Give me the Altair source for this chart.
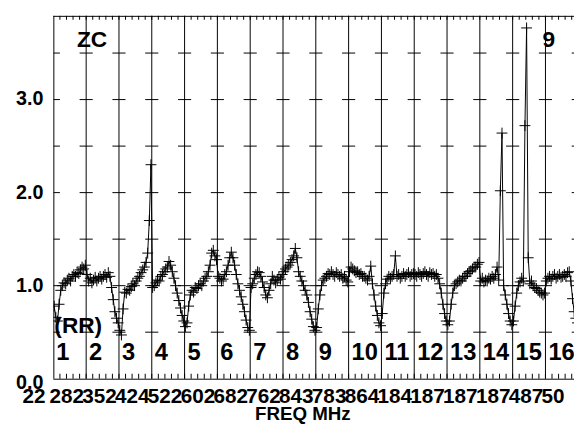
import altair as alt
import pandas as pd

# ---------------- data ----------------
seg1 = [0.78, 0.66, 0.62, 0.80, 0.95, 1.00, 1.03, 1.02, 1.06, 1.08, 1.05, 1.10, 1.12, 1.10, 1.14, 1.13, 1.17, 1.20, 1.18, 1.22]
seg2 = [1.12, 1.05, 1.08, 1.03, 1.06, 1.09, 1.05, 1.08, 1.10, 1.07, 1.10, 1.12, 1.09, 1.14, 1.10, 0.98, 0.85, 0.72, 0.65, 0.60]
seg3 = [0.52, 0.47, 0.75, 0.93, 0.92, 0.96, 0.95, 0.99, 1.02, 1.00, 1.05, 1.08, 1.10, 1.14, 1.17, 1.20, 1.25, 1.35, 1.70, 2.30]
seg4 = [0.98, 1.00, 1.03, 1.06, 1.05, 1.10, 1.12, 1.15, 1.18, 1.20, 1.26, 1.22, 1.15, 1.08, 1.00, 0.92, 0.84, 0.76, 0.68, 0.62]
seg5 = [0.56, 0.60, 0.78, 0.90, 0.95, 0.93, 0.98, 0.97, 1.00, 1.02, 1.00, 1.05, 1.08, 1.10, 1.15, 1.22, 1.35, 1.38, 1.32, 1.28]
seg6 = [1.10, 1.08, 1.05, 1.07, 1.12, 1.15, 1.22, 1.30, 1.36, 1.30, 1.22, 1.12, 1.02, 0.95, 0.88, 0.80, 0.72, 0.63, 0.55, 0.52]
seg7 = [0.98, 1.02, 1.08, 1.12, 1.15, 1.14, 1.10, 1.04, 0.98, 0.90, 0.87, 0.95, 1.02, 1.10, 1.06, 1.03, 1.06, 1.09, 1.07, 1.12]
seg8 = [1.15, 1.18, 1.20, 1.22, 1.25, 1.28, 1.32, 1.40, 1.30, 1.15, 1.10, 1.05, 1.00, 0.95, 0.90, 0.82, 0.72, 0.64, 0.56, 0.52]
seg9 = [0.55, 0.75, 0.90, 1.00, 1.06, 1.08, 1.10, 1.13, 1.12, 1.15, 1.12, 1.10, 1.14, 1.12, 1.10, 1.12, 1.08, 1.10, 1.06, 1.04]
seg10 = [1.15, 1.20, 1.18, 1.16, 1.14, 1.15, 1.12, 1.13, 1.10, 1.10, 1.08, 1.06, 1.10, 1.21, 1.02, 0.90, 0.78, 0.68, 0.60, 0.57]
seg11 = [0.70, 0.92, 1.02, 1.07, 1.10, 1.08, 1.10, 1.12, 1.32, 1.10, 1.12, 1.08, 1.10, 1.13, 1.10, 1.12, 1.14, 1.10, 1.12, 1.13]
seg12 = [1.12, 1.10, 1.14, 1.12, 1.10, 1.13, 1.15, 1.12, 1.10, 1.14, 1.12, 1.13, 1.10, 1.12, 1.08, 1.02, 0.92, 0.80, 0.70, 0.62]
seg13 = [0.58, 0.62, 0.80, 0.92, 1.00, 1.02, 1.04, 1.06, 1.05, 1.08, 1.10, 1.10, 1.13, 1.15, 1.16, 1.18, 1.20, 1.20, 1.23, 1.25]
seg14 = [1.05, 1.08, 1.04, 1.06, 1.05, 1.08, 1.07, 1.10, 1.08, 1.12, 1.20, 1.06, 2.02, 2.64, 1.00, 0.90, 0.80, 0.70, 0.62, 0.58]
seg15 = [0.62, 0.78, 0.92, 1.00, 1.04, 1.08, 1.05, 2.72, 3.77, 1.30, 1.02, 1.05, 1.00, 0.98, 0.97, 0.95, 0.93, 0.92, 0.90, 0.92]
seg16 = [1.05, 1.08, 1.10, 1.07, 1.10, 1.12, 1.08, 1.10, 1.12, 1.09, 1.10, 1.12, 1.10, 1.14, 1.15, 1.05, 0.86, 0.72, 0.65, 0.60]

SEGMENTS = [seg1, seg2, seg3, seg4, seg5, seg6, seg7, seg8,
            seg9, seg10, seg11, seg12, seg13, seg14, seg15, seg16]
SEG_LABELS = [str(i) for i in range(1, 17)]
FREQ_FIRST = "22"
FREQ_LABELS = ["282", "352", "424", "522", "602", "682", "762", "843",
               "783", "864", "184", "187", "187", "187", "487", "50"]
Y_TICKS = [0.0, 1.0, 2.0, 3.0]
Y_DASH_LEVELS = [0.5, 1.0, 1.5, 2.0, 2.5, 3.0, 3.5]

# ---------------- layout ----------------
W, H = 528, 368
SEG_PX = 33.27
XMAX = W / SEG_PX
YMAX = 3.9
FONT = "Liberation Sans"

xs = alt.Scale(domain=[0, XMAX], nice=False, zero=False)
ys = alt.Scale(domain=[0, YMAX], nice=False, zero=False)

rows = []
for k, seg in enumerate(SEGMENTS):
    n = len(seg)
    for i, v in enumerate(seg):
        rows.append({"pos": k + (i + 0.5) / n, "val": v})
pts = pd.DataFrame(rows)

bounds = pd.DataFrame({"b": list(range(1, 16))})
dashes = pd.DataFrame([
    {"x1": max(0.0, b - 0.2), "x2": b + 0.2, "lev": lev}
    for b in range(0, 17) for lev in Y_DASH_LEVELS
])
ticks = pd.DataFrame({"t": [j * 0.2 for j in range(1, int(XMAX / 0.2) + 1)]})
dummy = pd.DataFrame({"a": [0]})

def X(field):
    return alt.X(field, scale=xs, axis=None)

def Y(field):
    return alt.Y(field, scale=ys, axis=None)

vlines = alt.Chart(bounds).mark_rule(color="black", strokeWidth=1).encode(
    x=X("b:Q"), y=alt.value(0), y2=alt.value(H))
dash = alt.Chart(dashes).mark_rule(color="black", strokeWidth=1, clip=True).encode(
    x=X("x1:Q"), x2="x2:Q", y=Y("lev:Q"))
top_ticks = alt.Chart(ticks).mark_rule(color="black", strokeWidth=1).encode(
    x=X("t:Q"), y=alt.value(0), y2=alt.value(4))
bot_ticks = alt.Chart(ticks).mark_rule(color="black", strokeWidth=1).encode(
    x=X("t:Q"), y=alt.value(H - 5), y2=alt.value(H))
frame_top = alt.Chart(dummy).mark_rule(color="black", strokeWidth=1).encode(
    x=alt.value(0), x2=alt.value(W), y=alt.value(0.5))
frame_bot = alt.Chart(dummy).mark_rule(color="black", strokeWidth=1).encode(
    x=alt.value(0), x2=alt.value(W), y=alt.value(H + 0.5))
frame_left = alt.Chart(dummy).mark_rule(color="black", strokeWidth=1).encode(
    x=alt.value(0.5), y=alt.value(0), y2=alt.value(H))

line = alt.Chart(pts).mark_line(color="black", strokeWidth=1, clip=True).encode(
    x=X("pos:Q"), y=Y("val:Q"), order="pos:Q")
PLUS = "M-1,0L1,0M0,-1L0,1"
points = alt.Chart(pts).mark_point(shape=PLUS, size=121, filled=False, color="black",
                                   strokeWidth=1, opacity=1, clip=True).encode(
    x=X("pos:Q"), y=Y("val:Q"))

# texts
seg_df = pd.DataFrame({"b": list(range(16)), "lab": SEG_LABELS})
seg_txt = alt.Chart(seg_df).mark_text(font=FONT, fontWeight="bold", fontSize=24, align="left",
                                      baseline="alphabetic", dx=3, color="black").encode(
    x=X("b:Q"), y=alt.value(349), text="lab:N")

fq_df = pd.DataFrame({"b": list(range(16)), "lab": FREQ_LABELS})
fq_txt = alt.Chart(fq_df).mark_text(font=FONT, fontWeight="bold", fontSize=21, align="left",
                                    baseline="alphabetic", dx=-4, color="black").encode(
    x=X("b:Q"), y=alt.value(393), text="lab:N")
fq_first = alt.Chart(pd.DataFrame({"lab": [FREQ_FIRST]})).mark_text(
    font=FONT, fontWeight="bold", fontSize=21, align="right", baseline="alphabetic",
    color="black").encode(x=alt.value(-8), y=alt.value(393), text="lab:N")

ylab_df = pd.DataFrame({"v": Y_TICKS[1:], "lab": [f"{v:.1f}" for v in Y_TICKS[1:]]})
ylab = alt.Chart(ylab_df).mark_text(font=FONT, fontWeight="bold", fontSize=20, align="right",
                                    baseline="middle", color="black").encode(
    x=alt.value(-10), y=Y("v:Q"), text="lab:N")
ylab0 = alt.Chart(pd.DataFrame({"v": [Y_TICKS[0]], "lab": ["0.0"]})).mark_text(
    font=FONT, fontWeight="bold", fontSize=20, align="right", baseline="middle", dy=4,
    color="black").encode(x=alt.value(-10), y=Y("v:Q"), text="lab:N")

def label(txt, x, y, size, align="left"):
    return alt.Chart(pd.DataFrame({"lab": [txt]})).mark_text(
        font=FONT, fontWeight="bold", fontSize=size, align=align, baseline="alphabetic",
        color="black").encode(x=alt.value(x), y=alt.value(y), text="lab:N")

zc = label("ZC", 24, 32, 23)
nine = label("9", 496, 32, 23)
rr = label("(RR)", 1, 322, 23)
xtitle = label("FREQ MHz", 253, 410, 19, align="center")

chart = alt.layer(
    vlines, dash, top_ticks, bot_ticks, frame_top, frame_bot, frame_left,
    line, points, seg_txt, fq_txt, fq_first, ylab, ylab0, zc, nine, rr, xtitle
).properties(
    width=W, height=H, autosize="none",
    padding={"left": 46, "top": 5, "right": 0, "bottom": 44}
).configure_view(stroke=None)

chart.save("out.html", embed_options={"renderer": "svg", "actions": False})
